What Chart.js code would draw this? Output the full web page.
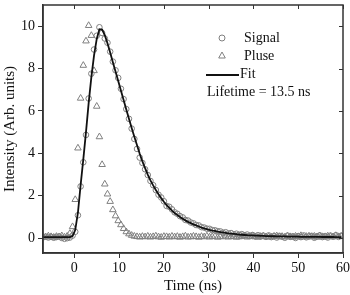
<!DOCTYPE html>
<html>
<head>
<meta charset="utf-8">
<script src="https://cdn.jsdelivr.net/npm/chart.js@4.4.1/dist/chart.umd.min.js"></script>
<style>
  body { margin: 0; background: #fff; }
  #wrap { width: 350px; height: 295px; }
</style>
</head>
<body>
<div id="wrap"><canvas id="myChart"></canvas></div>
<script>
// time axis (ns)
const times = [
  -7.0,-6.4,-5.8,-5.2,-4.6,-4.0,-3.4,-2.8,-2.2,-1.6,
  -1.0,-0.4,0.2,0.8,1.4,2.0,2.6,3.2,3.8,4.4,
  5.0,5.6,6.2,6.8,7.4,8.0,8.6,9.2,9.8,10.4,
  11.0,11.6,12.2,12.8,13.4,14.0,14.6,15.2,15.8,16.4,
  17.0,17.6,18.2,18.8,19.4,20.0,20.6,21.2,21.8,22.4,
  23.0,23.6,24.2,24.8,25.4,26.0,26.6,27.2,27.8,28.4,
  29.0,29.6,30.2,30.8,31.4,32.0,32.6,33.2,33.8,34.4,
  35.0,35.6,36.2,36.8,37.4,38.0,38.6,39.2,39.8,40.4,
  41.0,41.6,42.2,42.8,43.4,44.0,44.6,45.2,45.8,46.4,
  47.0,47.6,48.2,48.8,49.4,50.0,50.6,51.2,51.8,52.4,
  53.0,53.6,54.2,54.8,55.4,56.0,56.6,57.2,57.8,58.4,
  59.0,59.6
];

const signal = [
  0.04,0.07,0.03,0.06,0.02,0.05,0.08,0.01,-0.03,0.00,
  0.03,0.12,0.30,1.08,2.44,3.58,4.87,6.59,7.76,8.90,
  9.55,9.95,9.68,9.42,9.22,8.80,8.33,7.92,7.56,7.05,
  6.56,6.09,5.63,5.17,4.68,4.21,3.80,3.55,3.25,2.98,
  2.70,2.50,2.27,2.05,1.92,1.74,1.52,1.48,1.36,1.22,
  1.15,1.04,0.98,0.86,0.83,0.74,0.70,0.62,0.60,0.52,
  0.50,0.45,0.44,0.38,0.37,0.33,0.32,0.26,0.28,0.22,
  0.24,0.18,0.21,0.16,0.19,0.13,0.17,0.11,0.15,0.09,
  0.14,0.08,0.12,0.06,0.13,0.05,0.10,0.03,0.11,0.07,
  0.02,0.12,0.06,0.09,0.01,0.10,0.05,0.13,0.04,0.08,
  0.11,0.02,0.09,0.13,0.05,0.10,0.03,0.12,0.07,0.14,
  0.06,0.11
];

const pulse = [
  0.09,0.05,0.10,0.07,0.04,0.08,0.06,0.11,0.05,0.09,
  0.22,0.54,1.82,4.25,6.60,8.15,9.30,10.03,9.56,7.90,
  6.22,4.78,3.47,2.55,2.08,1.73,1.34,1.05,0.82,0.63,
  0.45,0.30,0.20,0.13,0.09,0.07,0.05,0.08,0.06,0.09,
  0.05,0.07,0.10,0.06,0.04,0.08,0.07,0.05,0.09,0.06,
  0.08,0.04,0.07,0.10,0.05,0.06,0.09,0.07,0.04,0.08,
  0.06,0.10,0.05,0.07,0.09,0.04,0.08,0.06,0.10,0.05,
  0.07,0.09,0.04,0.06,0.08,0.11,0.05,0.07,0.09,0.06,
  0.04,0.08,0.10,0.06,0.07,0.05,0.09,0.11,0.06,0.08,
  0.05,0.10,0.07,0.04,0.09,0.06,0.12,0.05,0.08,0.10,
  0.06,0.09,0.04,0.11,0.07,0.05,0.10,0.08,0.06,0.12,
  0.07,0.09
];

const fit = [
  0.05,0.05,0.05,0.05,0.05,0.05,0.05,0.05,0.05,0.05,
  0.05,0.10,0.38,1.20,2.50,3.72,5.00,6.38,7.60,8.62,
  9.40,9.86,9.84,9.58,9.20,8.76,8.30,7.86,7.42,6.97,
  6.52,6.07,5.63,5.20,4.78,4.38,3.98,3.62,3.30,3.00,
  2.73,2.49,2.27,2.07,1.89,1.72,1.56,1.43,1.30,1.19,
  1.09,1.00,0.92,0.84,0.77,0.71,0.65,0.60,0.55,0.50,
  0.46,0.43,0.39,0.36,0.34,0.31,0.29,0.27,0.25,0.23,
  0.21,0.20,0.19,0.17,0.16,0.15,0.14,0.135,0.13,0.12,
  0.115,0.11,0.105,0.10,0.095,0.09,0.09,0.085,0.085,0.08,
  0.08,0.075,0.075,0.07,0.07,0.07,0.065,0.065,0.065,0.06,
  0.06,0.06,0.06,0.06,0.055,0.055,0.055,0.055,0.055,0.05,
  0.05,0.05
];

const xTicks = [0, 10, 20, 30, 40, 50, 60];
const yTicks = [0, 2, 4, 6, 8, 10];

const legendLabels = ['Signal', 'Pluse', 'Fit'];
const lifetimeText = 'Lifetime = 13.5 ns';

const markerColor = '#808080';
const axisColor = '#333';

function toPoints(arr) {
  return times.map((t, i) => ({x: t, y: arr[i]}));
}

// frame, inner ticks on top/right, and the legend box
const framePlugin = {
  id: 'frame',
  afterDraw(chart) {
    const ctx = chart.ctx;
    const ca = chart.chartArea;
    const xs = chart.scales.x;
    const ys = chart.scales.y;
    ctx.save();
    ctx.strokeStyle = axisColor;
    ctx.lineWidth = 1.5;
    ctx.strokeRect(ca.left, ca.top, ca.right - ca.left, ca.bottom - ca.top);

    ctx.lineWidth = 1;
    ctx.beginPath();
    xTicks.forEach(v => {
      const px = Math.round(xs.getPixelForValue(v)) + 0.5;
      ctx.moveTo(px, ca.top);
      ctx.lineTo(px, ca.top + 4);
    });
    yTicks.forEach(v => {
      const py = Math.round(ys.getPixelForValue(v)) + 0.5;
      ctx.moveTo(ca.right, py);
      ctx.lineTo(ca.right - 4, py);
    });
    ctx.stroke();

    // legend
    const lx = 222, tx = 244;
    ctx.font = '14px "Liberation Serif"';
    ctx.fillStyle = '#111';
    ctx.textBaseline = 'middle';
    ctx.textAlign = 'left';

    ctx.strokeStyle = markerColor;
    ctx.lineWidth = 1;
    ctx.beginPath();
    ctx.arc(lx, 38, 3, 0, Math.PI * 2);
    ctx.stroke();
    ctx.fillText(legendLabels[0], tx, 38);

    ctx.beginPath();
    ctx.moveTo(lx, 52);
    ctx.lineTo(lx + 3.3, 58);
    ctx.lineTo(lx - 3.3, 58);
    ctx.closePath();
    ctx.stroke();
    ctx.fillText(legendLabels[1], tx, 56);

    ctx.strokeStyle = '#111';
    ctx.lineWidth = 1.8;
    ctx.beginPath();
    ctx.moveTo(206, 75);
    ctx.lineTo(239, 75);
    ctx.stroke();
    ctx.fillText(legendLabels[2], 240, 74);

    ctx.fillText(lifetimeText, 207, 92);
    ctx.restore();
  }
};

Chart.defaults.font.family = '"Liberation Serif", "Times New Roman", serif';
Chart.defaults.color = '#111';

const ctx = document.getElementById('myChart').getContext('2d');
const myChart = new Chart(ctx, {
  type: 'line',
  data: {
    datasets: [
      {
        label: 'Fit',
        data: toPoints(fit),
        borderColor: '#111',
        borderWidth: 1.8,
        pointRadius: 0,
        fill: false,
        tension: 0
      },
      {
        label: 'Signal',
        data: toPoints(signal),
        showLine: false,
        pointStyle: 'circle',
        pointRadius: 2.8,
        pointBorderWidth: 1,
        pointBorderColor: markerColor,
        pointBackgroundColor: 'rgba(0,0,0,0)'
      },
      {
        label: 'Pluse',
        data: toPoints(pulse),
        showLine: false,
        pointStyle: 'triangle',
        pointRadius: 3.8,
        pointBorderWidth: 1,
        pointBorderColor: markerColor,
        pointBackgroundColor: 'rgba(0,0,0,0)'
      }
    ]
  },
  options: {
    responsive: true,
    maintainAspectRatio: false,
    animation: false,
    layout: { padding: { left: 0, right: 7, top: 1, bottom: 0 } },
    plugins: {
      legend: { display: false },
      tooltip: { enabled: false }
    },
    scales: {
      x: {
        type: 'linear',
        min: -7,
        max: 60,
        afterBuildTicks: s => { s.ticks = xTicks.map(v => ({value: v})); },
        afterFit: s => { s.height = 42; s.paddingLeft = 0; s.paddingRight = 0; },
        grid: { drawOnChartArea: false, drawTicks: true, tickLength: 5, color: axisColor },
        border: { display: true, color: axisColor, width: 1.5 },
        ticks: { font: { size: 14 }, color: '#111', padding: 2, maxRotation: 0 },
        title: { display: true, text: 'Time (ns)', font: { size: 15 }, color: '#111', padding: { top: 0, bottom: 0 } }
      },
      y: {
        type: 'linear',
        min: -0.7,
        max: 11,
        afterBuildTicks: s => { s.ticks = yTicks.map(v => ({value: v})); },
        afterFit: s => { s.width = 43; s.paddingTop = 0; s.paddingBottom = 0; },
        grid: { drawOnChartArea: false, drawTicks: true, tickLength: 5, color: axisColor },
        border: { display: true, color: axisColor, width: 1.5 },
        ticks: { font: { size: 14 }, color: '#111', padding: 3 },
        title: { display: true, text: 'Intensity (Arb. units)', font: { size: 15 }, color: '#111', padding: { top: 1, bottom: 0 } }
      }
    }
  },
  plugins: [framePlugin]
});
</script>
</body>
</html>
